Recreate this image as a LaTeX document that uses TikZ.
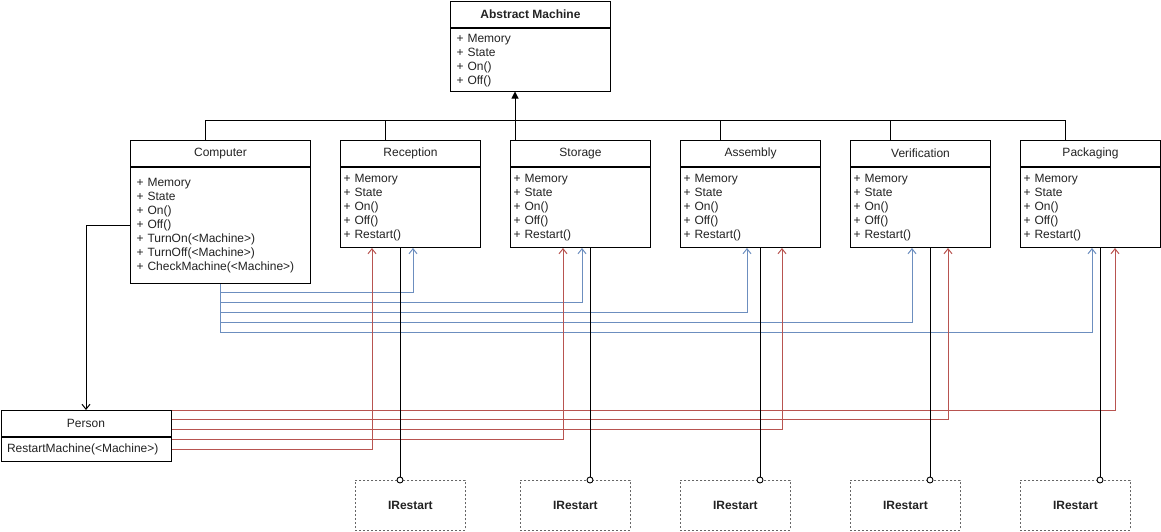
\documentclass[tikz,border=0pt]{standalone}
\usepackage{fontspec}
\setmainfont{Liberation Sans}
\usetikzlibrary{arrows.meta,calc}
\definecolor{linkblue}{HTML}{6C8EBF}
\definecolor{linkred}{HTML}{B85450}
\definecolor{ifgray}{HTML}{666666}
\definecolor{ink}{HTML}{222222}
\begin{document}
\begin{tikzpicture}[x=1pt,y=-1pt,
  txt/.style={font=\fontsize{12}{14}\selectfont, text=ink},
  hdr/.style={txt, draw, line width=1pt, anchor=north west, inner sep=0pt, minimum height=26pt},
  bodybox/.style={txt, draw, line width=1pt, anchor=north west, inner xsep=3pt, inner ysep=0pt, align=left},
  iface/.style={txt, font=\fontsize{12}{14}\selectfont\bfseries, draw=ifgray, line width=0.8pt,
    dash pattern=on 2pt off 2pt, anchor=north west, minimum width=110pt, minimum height=50pt, inner sep=0pt},
  knob/.style={circle, draw, fill=white, line width=0.9pt, inner sep=0pt, minimum size=6pt},
  inh/.style={line width=1pt, -{Triangle[length=7pt,width=7pt]}},
  assoc/.style={line width=1pt, -{Straight Barb[length=5pt,width=8pt]}},
  bl/.style={draw=linkblue, line width=1pt, -{Straight Barb[length=5pt,width=8pt]}},
  rd/.style={draw=linkred, line width=1pt, -{Straight Barb[length=5pt,width=8pt]}},
  lolly/.style={line width=1pt}
]
\useasboundingbox (0,0) rectangle (1161,531);

% base class
\node[hdr, minimum width=160pt, minimum height=26pt, font=\fontsize{12}{14}\selectfont\bfseries] (am) at (450,0.5) {Abstract Machine};
\node[bodybox, inner xsep=6pt, text width=148pt, minimum height=63pt] (amb) at (am.south west) {\rule{0pt}{11pt}+ Memory\\+ State\\+ On()\\+ Off()};

% computer
\node[hdr, minimum width=180pt] (comp) at (130,140) {Computer};
\node[bodybox, inner xsep=6pt, text width=168pt, minimum height=116pt] (compb) at (comp.south west)
  {+ Memory\\+ State\\+ On()\\+ Off()\\+ TurnOn(<Machine>)\\+ TurnOff(<Machine>)\\+ CheckMachine(<Machine>)};

% machines
\node[hdr, minimum width=140pt] (rec) at (340,140) {Reception};
\node[bodybox, text width=134pt, minimum height=80pt] (recb) at (rec.south west) {+ Memory\\+ State\\+ On()\\+ Off()\\+ Restart()};
\node[hdr, minimum width=140pt] (sto) at (510,140) {Storage};
\node[bodybox, text width=134pt, minimum height=80pt] (stob) at (sto.south west) {+ Memory\\+ State\\+ On()\\+ Off()\\+ Restart()};
\node[hdr, minimum width=140pt] (asm) at (680,140) {Assembly};
\node[bodybox, text width=134pt, minimum height=80pt] (asmb) at (asm.south west) {+ Memory\\+ State\\+ On()\\+ Off()\\+ Restart()};
\node[hdr, minimum width=140pt] (ver) at (850,140) {Verification};
\node[bodybox, text width=134pt, minimum height=80pt] (verb) at (ver.south west) {+ Memory\\+ State\\+ On()\\+ Off()\\+ Restart()};
\node[hdr, minimum width=140pt] (pkg) at (1020,140) {Packaging};
\node[bodybox, text width=134pt, minimum height=80pt] (pkgb) at (pkg.south west) {+ Memory\\+ State\\+ On()\\+ Off()\\+ Restart()};

% person
\node[hdr, minimum width=170pt] (per) at (0.5,410) {Person};
\node[bodybox, inner xsep=6pt, text width=158pt, minimum height=24pt] (perb) at (per.south west) {RestartMachine(<Machine>)};

% interfaces
\node[iface] (ir1) at (355,480) {IRestart};
\node[iface] (ir2) at (520,480) {IRestart};
\node[iface] (ir3) at (680,480) {IRestart};
\node[iface] (ir4) at (850,480) {IRestart};
\node[iface] (ir5) at (1020,480) {IRestart};

% generalisation tree
\coordinate (bus) at (0,120);
\coordinate (tcomp) at ($(comp.north west)+(75,0)$);
\coordinate (trec) at ($(rec.north west)+(45,0)$);
\coordinate (tsto) at ($(sto.north west)+(5,0)$);
\coordinate (tasm) at ($(asm.north west)+(40,0)$);
\coordinate (tver) at ($(ver.north west)+(40,0)$);
\coordinate (tpkg) at ($(pkg.north west)+(45,0)$);
\draw[line width=1pt] (tcomp) -- (tcomp |- bus) -- (tpkg |- bus) -- (tpkg);
\draw[line width=1pt] (trec) -- (trec |- bus);
\draw[line width=1pt] (tasm) -- (tasm |- bus);
\draw[line width=1pt] (tver) -- (tver |- bus);
\draw[inh] (tsto) -- (tsto |- amb.south);

% computer controls the machines
\draw[bl] (compb.south) |- ($(recb.south west)+(73,44)$) -- ($(recb.south west)+(73,0)$);
\draw[bl] (compb.south) |- ($(stob.south west)+(72,54)$) -- ($(stob.south west)+(72,0)$);
\draw[bl] (compb.south) |- ($(asmb.south west)+(67,64)$) -- ($(asmb.south west)+(67,0)$);
\draw[bl] (compb.south) |- ($(verb.south west)+(62,74)$) -- ($(verb.south west)+(62,0)$);
\draw[bl] (compb.south) |- ($(pkgb.south west)+(72,84)$) -- ($(pkgb.south west)+(72,0)$);

% computer to person
\draw[assoc] ($(compb.north west)+(0,58)$) -| (per.north);

% person restarts the machines
\draw[rd] ($(per.north east)+(0,39)$) -| ($(recb.south west)+(32,0)$);
\draw[rd] ($(per.north east)+(0,29)$) -| ($(stob.south west)+(53,0)$);
\draw[rd] ($(per.north east)+(0,19)$) -| ($(asmb.south west)+(102,0)$);
\draw[rd] ($(per.north east)+(0,9)$) -| ($(verb.south west)+(98,0)$);
\draw[rd] (per.north east) -| ($(pkgb.south west)+(95,0)$);

% provided interfaces
\node[knob] (k1) at ($(ir1.north west)+(45,0)$) {};
\node[knob] (k2) at ($(ir2.north west)+(70,0)$) {};
\node[knob] (k3) at ($(ir3.north west)+(80,0)$) {};
\node[knob] (k4) at ($(ir4.north west)+(80,0)$) {};
\node[knob] (k5) at ($(ir5.north west)+(80,0)$) {};
\draw[lolly] ($(recb.south west)+(60,0)$) -- (k1.north);
\draw[lolly] ($(stob.south west)+(80,0)$) -- (k2.north);
\draw[lolly] ($(asmb.south west)+(80,0)$) -- (k3.north);
\draw[lolly] ($(verb.south west)+(80,0)$) -- (k4.north);
\draw[lolly] ($(pkgb.south west)+(80,0)$) -- (k5.north);
\end{tikzpicture}
\end{document}
